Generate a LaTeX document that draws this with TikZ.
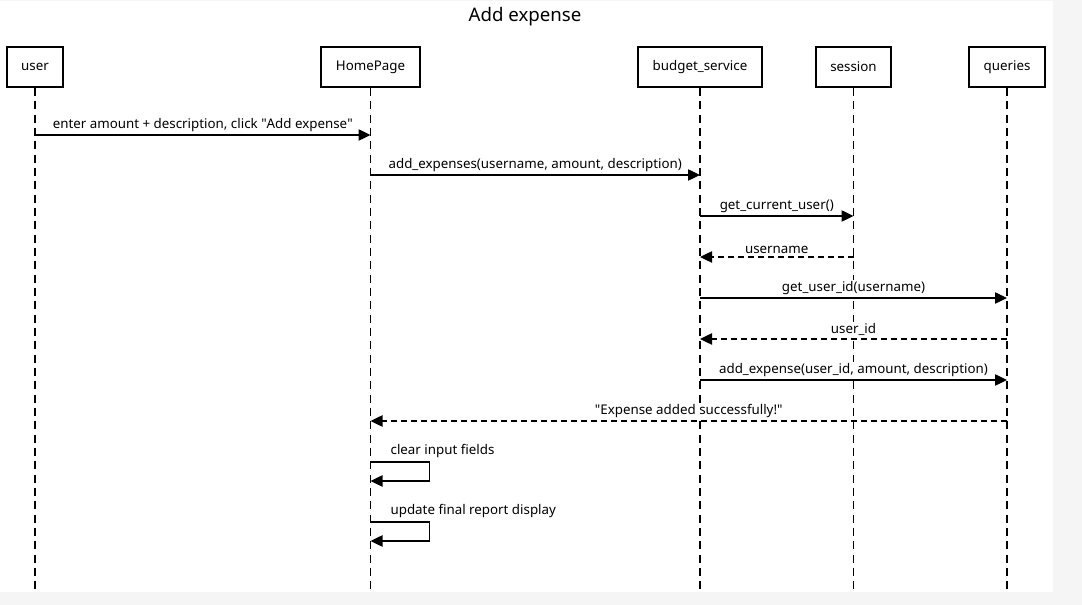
\documentclass[tikz,border=0pt]{standalone}
\usepackage{fontspec}
\setmainfont{Noto Sans}
\usepackage{xcolor}
\usepackage{tikz}
\usetikzlibrary{positioning,arrows.meta,calc}
\definecolor{pagegray}{HTML}{F5F5F5}
\tikzset{
  part/.style  ={draw, rectangle, line width=1.5pt, fill=white, align=center, minimum height=30pt, inner xsep=11pt, font=\fontsize{10}{12}\selectfont},
  life/.style  ={line width=0.9pt, dash pattern=on 6pt off 4pt},
  call/.style  ={-{Triangle[length=9pt, width=8.5pt]}, line width=1pt},
  reply/.style ={-{Triangle[length=9pt, width=8.5pt]}, line width=1pt, dash pattern=on 4.5pt off 3pt},
  lbl/.style   ={font=\fontsize{10}{12}\selectfont, inner sep=1pt, fill=white},
}

\begin{document}
\begin{tikzpicture}[x=0.75pt, y=-0.75pt]
  % page and margins
  \fill[pagegray] (0,0) rectangle (1082,605);
  \fill[white] (0,1) rectangle (1053,592);

  \node[font=\fontsize{14}{16}\selectfont] (title) at (525,17) {Add expense};

  % participants
  \node[part] (user)    at (35,67)    {user};
  \node[part] (home)    at (370.5,67) {HomePage};
  \node[part] (budget)  at (700,67)   {budget\_service};
  \node[part] (session) at (853.5,67) {session};
  \node[part] (queries) at (1007,67)  {queries};

  % lifelines
  \foreach \p in {user,home,budget,session,queries}
    \draw[life] (\p.south) -- (\p.south |- 0,592);

  % messages
  \draw[call] (user.south |- 0,135) -- (home.south |- 0,135)
       node[midway, above=1pt, lbl]{enter amount + description, click \textquotedbl Add expense\textquotedbl};
  \draw[call] (home.south |- 0,175) -- (budget.south |- 0,175)
       node[midway, above=1pt, lbl]{add\_expenses(username, amount, description)};
  \draw[call] (budget.south |- 0,216) -- (session.south |- 0,216)
       node[midway, above=1pt, lbl]{get\_current\_user()};
  \draw[reply] (session.south |- 0,257) -- (budget.south |- 0,257)
       node[midway, above=1pt, lbl]{username};
  \draw[call] (budget.south |- 0,298) -- (queries.south |- 0,298)
       node[midway, above=1pt, lbl]{get\_user\_id(username)};
  \draw[reply] (queries.south |- 0,339) -- (budget.south |- 0,339)
       node[midway, above=1pt, lbl]{user\_id};
  \draw[call] (budget.south |- 0,380) -- (queries.south |- 0,380)
       node[midway, above=1pt, lbl]{add\_expense(user\_id, amount, description)};
  \draw[reply] (queries.south |- 0,421) -- (home.south |- 0,421)
       node[midway, above=1pt, lbl]{\textquotedbl Expense added successfully!\textquotedbl};

  % self calls on HomePage
  \draw[call] (home.south |- 0,462) -- ++(59,0) -- ++(0,19) -- (home.south |- 0,481);
  \node[lbl, anchor=west] (clear) at (389,451) {clear input fields};
  \draw[call] (home.south |- 0,522) -- ++(59,0) -- ++(0,19) -- (home.south |- 0,541);
  \node[lbl, anchor=west] (update) at (389,511) {update final report display};
\end{tikzpicture}
\end{document}
